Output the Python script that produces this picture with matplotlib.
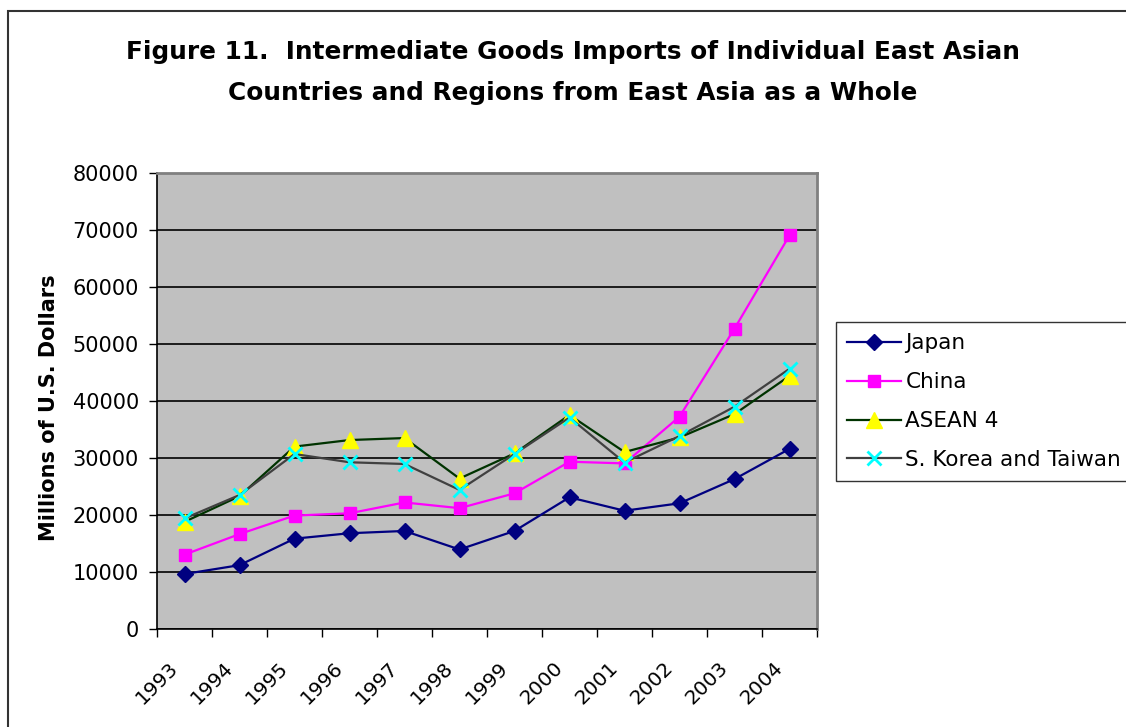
import numpy as np
import matplotlib.pyplot as plt
from matplotlib.patches import Rectangle

plt.rcParams['font.family'] = ['DejaVu Sans']

years = ['1993', '1994', '1995', '1996', '1997', '1998',
         '1999', '2000', '2001', '2002', '2003', '2004']
japan = [9650, 11200, 15850, 16800, 17200, 13950, 17200, 23100, 20750, 22050, 26300, 31600]
china = [13050, 16650, 19900, 20300, 22200, 21200, 23800, 29350, 29050, 37250, 52700, 69050]
asean4 = [18800, 23300, 32000, 33150, 33500, 26400, 30800, 37550, 31050, 33600, 37700, 44400]
korea_taiwan = [19400, 23500, 30700, 29250, 28950, 24400, 30700, 37100, 29200, 33850, 39000, 45650]

fig = plt.figure(figsize=(11.26, 7.27), dpi=100)
ax = fig.add_axes([157 / 1126, 1 - 629 / 727, 660 / 1126, 456 / 727])
ax.set_facecolor('#C0C0C0')

x = np.arange(len(years))
ax.plot(x, japan, color='#000080', lw=1.6, marker='D', ms=8,
        mfc='#000080', mec='#000080', label='Japan', zorder=3)
ax.plot(x, china, color='#FF00FF', lw=1.6, marker='s', ms=9,
        mfc='#FF00FF', mec='#FF00FF', label='China', zorder=3)
ax.plot(x, asean4, color='#003300', lw=1.6, marker='^', ms=11,
        mfc='#FFFF00', mec='#FFFF00', label='ASEAN 4', zorder=4)
ax.plot(x, korea_taiwan, color='#404040', lw=1.6, marker='x', ms=10, mew=2,
        mfc='#00FFFF', mec='#00FFFF', label='S. Korea and Taiwan', zorder=5)

ax.set_xlim(-0.5, len(years) - 0.5)
ax.set_ylim(0, 80000)
ax.set_yticks(np.arange(0, 80001, 10000))
ax.yaxis.grid(True, color='#000000', lw=1.2)
ax.set_axisbelow(True)

# category boundaries as major ticks; labels on invisible minor ticks,
# nudged left so the rotated text ends just before the category centre
ax.set_xticks(np.arange(-0.5, len(years), 1.0))
ax.set_xticklabels([])
ax.set_xticks(x - 0.17, minor=True)
ax.set_xticklabels(years, minor=True, rotation=45, ha='right', va='center',
                   rotation_mode='anchor', fontsize=14.5)
ax.tick_params(axis='x', which='minor', length=0, pad=26)
ax.tick_params(axis='x', which='major', length=6, width=1, direction='out')
ax.tick_params(axis='y', length=6, width=1, direction='out', labelsize=15, pad=7)

for s in ['top', 'right']:
    ax.spines[s].set_color('#808080')
    ax.spines[s].set_linewidth(2)
for s in ['left', 'bottom']:
    ax.spines[s].set_color('#000000')
    ax.spines[s].set_linewidth(1.2)

fig.text(49 / 1126, 1 - 408 / 727, 'Millions of U.S. Dollars', rotation=90,
         ha='center', va='center', fontsize=15, fontweight='bold')

fig.text(573 / 1126, 1 - 52 / 727,
         'Figure 11.  Intermediate Goods Imports of Individual East Asian',
         ha='center', va='center', fontsize=17.8, fontweight='bold')
fig.text(573 / 1126, 1 - 93 / 727,
         'Countries and Regions from East Asia as a Whole',
         ha='center', va='center', fontsize=17.8, fontweight='bold')

leg = fig.legend(loc='upper left', bbox_to_anchor=(836 / 1126, 1 - 322 / 727),
                 fontsize=15.5, frameon=True, fancybox=False, borderpad=0.52,
                 labelspacing=0.88, handlelength=2.5, handletextpad=0.2,
                 borderaxespad=0)
leg.get_frame().set_edgecolor('#000000')
leg.get_frame().set_linewidth(1)

# outer chart border (image is cropped on the right and bottom)
fig.patches.append(Rectangle((8 / 1126, -0.05), 1.2, 1.05 - 11 / 727,
                             transform=fig.transFigure, fill=False,
                             edgecolor='#333333', lw=1.5))

fig.savefig('out.png', dpi=100)
